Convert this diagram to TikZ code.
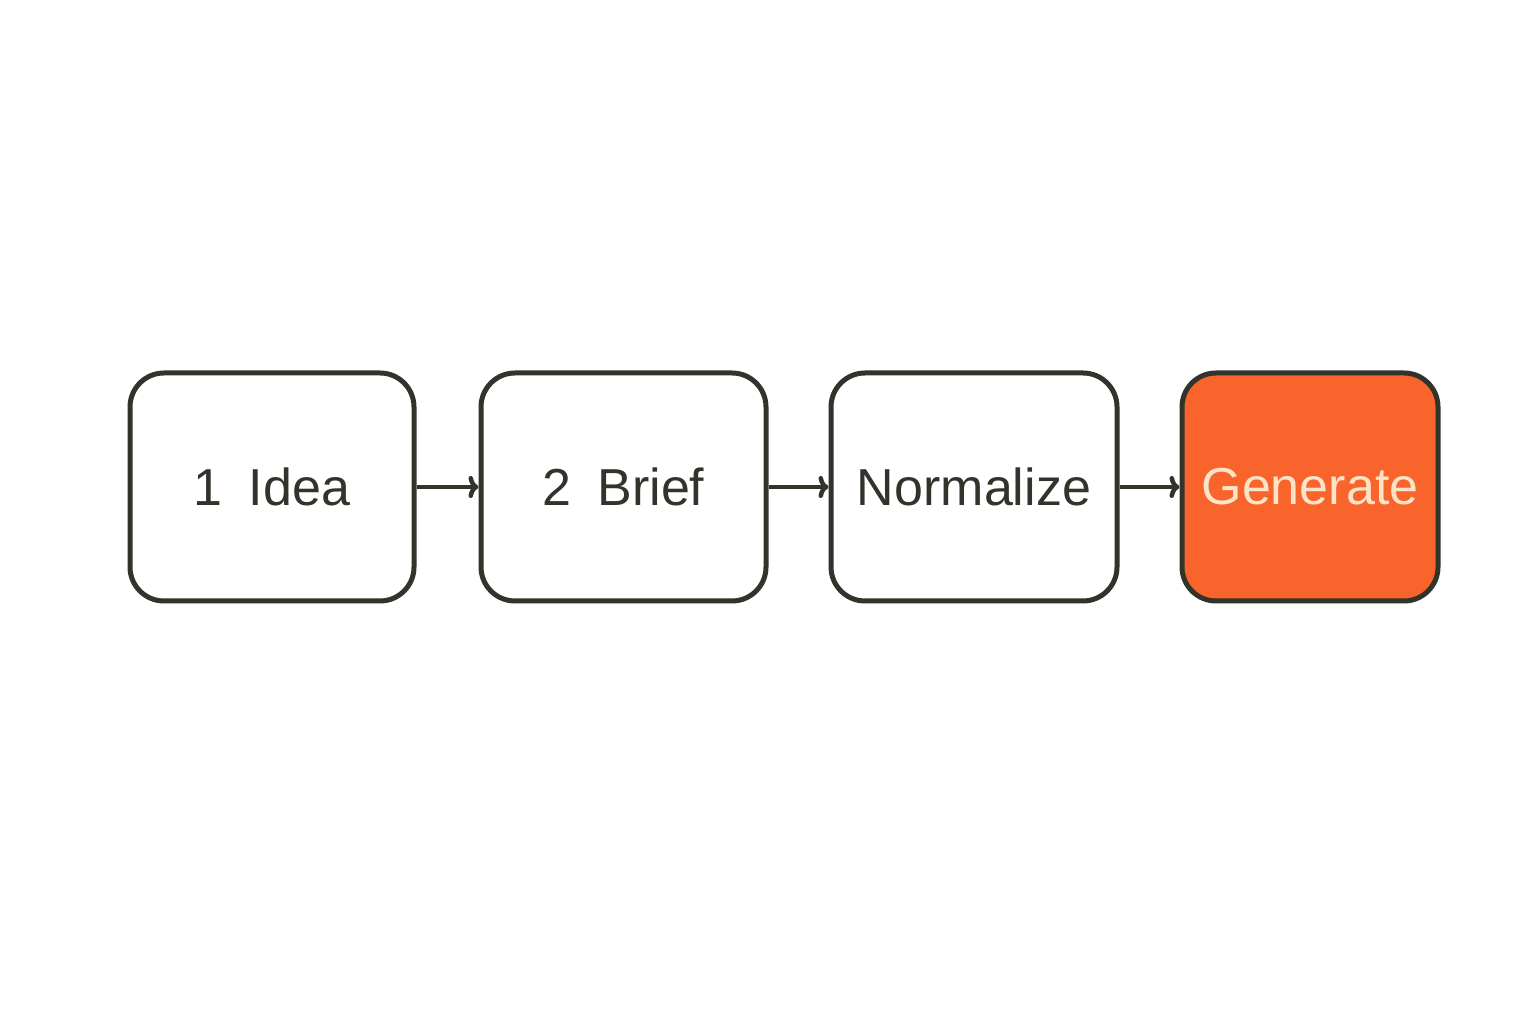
\documentclass[tikz,border=0pt]{standalone}
\usepackage{fontspec}
\setmainfont{Liberation Sans}
\usetikzlibrary{arrows.meta}
\definecolor{ink}{HTML}{30342A}
\definecolor{orng}{HTML}{F8642B}
\definecolor{cream}{HTML}{FCE4C8}
\begin{document}
\begin{tikzpicture}[x=1pt,y=1pt,
  stepbox/.style={draw=ink,line width=5pt,rounded corners=34pt,minimum height=228pt,font=\fontsize{52}{60}\selectfont,text=ink},
  conn/.style={draw=ink,line width=4.5pt,-{To[length=10pt,width=22pt,line width=4.5pt]}}]
\useasboundingbox (0,0) rectangle (1536,1024);
\node[stepbox,minimum width=284pt] (a) at (272,537) {1\hspace{0.5em}Idea};
\node[stepbox,minimum width=285pt] (b) at (623.5,537) {2\hspace{0.5em}Brief};
\node[stepbox,minimum width=286pt] (c) at (974,537) {Normalize};
\node[stepbox,minimum width=256pt,fill=orng,text=cream] (d) at (1310,537) {Generate};
\draw[conn] (a.east) -- (b.west);
\draw[conn] (b.east) -- (c.west);
\draw[conn] (c.east) -- (d.west);
\end{tikzpicture}
\end{document}
